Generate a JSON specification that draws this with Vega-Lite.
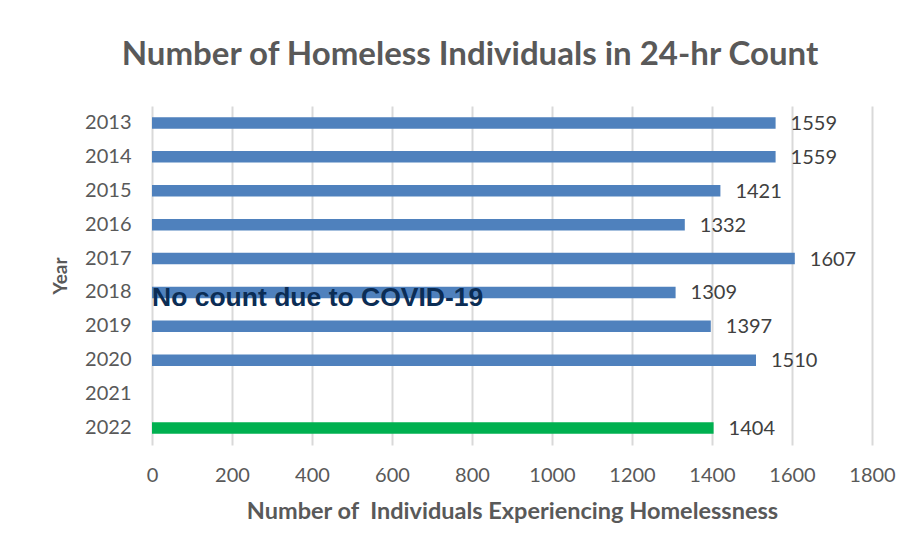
{
  "$schema": "https://vega.github.io/schema/vega-lite/v6.json",
  "width": 720,
  "height": 339,
  "autosize": "none",
  "padding": {"left": 152, "top": 106, "right": 46, "bottom": 113},
  "background": "white",
  "config": {
    "view": {"stroke": null},
    "font": "Lato"
  },
  "title": {
    "text": "Number of Homeless Individuals in 24-hr Count",
    "font": "Lato",
    "fontSize": 33,
    "fontWeight": "bold",
    "color": "#595959",
    "anchor": "middle",
    "baseline": "alphabetic",
    "dx": -42,
    "offset": 8
  },
  "datasets": {
    "counts": [
      {"year": "2013", "individuals": 1559},
      {"year": "2014", "individuals": 1559},
      {"year": "2015", "individuals": 1421},
      {"year": "2016", "individuals": 1332},
      {"year": "2017", "individuals": 1607},
      {"year": "2018", "individuals": 1309},
      {"year": "2019", "individuals": 1397},
      {"year": "2020", "individuals": 1510},
      {"year": "2021", "individuals": null},
      {"year": "2022", "individuals": 1404}
    ],
    "notes": [
      {"year": "2018", "individuals": 0, "note": "No count due to COVID-19"}
    ]
  },
  "layer": [
    {
      "data": {"name": "counts"},
      "mark": {"type": "bar"},
      "encoding": {
        "y": {
          "field": "year",
          "type": "nominal",
          "scale": {
            "domain": ["2013","2014","2015","2016","2017","2018","2019","2020","2021","2022"],
            "paddingInner": 0.66,
            "paddingOuter": 0.33
          },
          "axis": {
            "title": "Year",
            "titleFont": "Lato",
            "titleFontSize": 19,
            "titleFontWeight": "bold",
            "titleColor": "#595959",
            "titlePadding": 14,
            "labelFont": "Lato",
            "labelFontSize": 20,
            "labelColor": "#595959",
            "labelPadding": 21,
            "domain": false,
            "ticks": false,
            "grid": false
          }
        },
        "x": {
          "field": "individuals",
          "type": "quantitative",
          "scale": {"domain": [0, 1800], "nice": false},
          "axis": {
            "title": "Number of \u00a0Individuals Experiencing Homelessness",
            "titleFont": "Lato",
            "titleFontSize": 23.5,
            "titleFontWeight": "bold",
            "titleColor": "#595959",
            "titlePadding": 14,
            "values": [0,200,400,600,800,1000,1200,1400,1600,1800],
            "format": "d",
            "labelFlush": false,
            "labelOverlap": false,
            "labelFont": "Lato",
            "labelFontSize": 20,
            "labelColor": "#595959",
            "labelPadding": 20,
            "domain": false,
            "ticks": false,
            "grid": true,
            "gridColor": "#d9d9d9",
            "gridWidth": 2
          }
        },
        "color": {
          "condition": {"test": "datum.year === '2022'", "value": "#00b050"},
          "value": "#4f81bd"
        }
      }
    },
    {
      "data": {"name": "counts"},
      "transform": [{"filter": "datum.individuals != null"}],
      "mark": {"type": "text", "align": "left", "baseline": "middle", "dx": 15, "dy": 1, "font": "Lato", "fontSize": 20, "color": "#404040"},
      "encoding": {
        "y": {"field": "year", "type": "nominal"},
        "x": {"field": "individuals", "type": "quantitative"},
        "text": {"field": "individuals", "type": "quantitative", "format": "d"}
      }
    },
    {
      "data": {"name": "notes"},
      "mark": {"type": "text", "align": "left", "baseline": "middle", "dy": 6, "font": "Liberation Sans", "fontSize": 26.5, "fontWeight": "bold", "color": "#0b2d55"},
      "encoding": {
        "y": {"field": "year", "type": "nominal"},
        "x": {"field": "individuals", "type": "quantitative"},
        "text": {"field": "note", "type": "nominal"}
      }
    }
  ]
}
